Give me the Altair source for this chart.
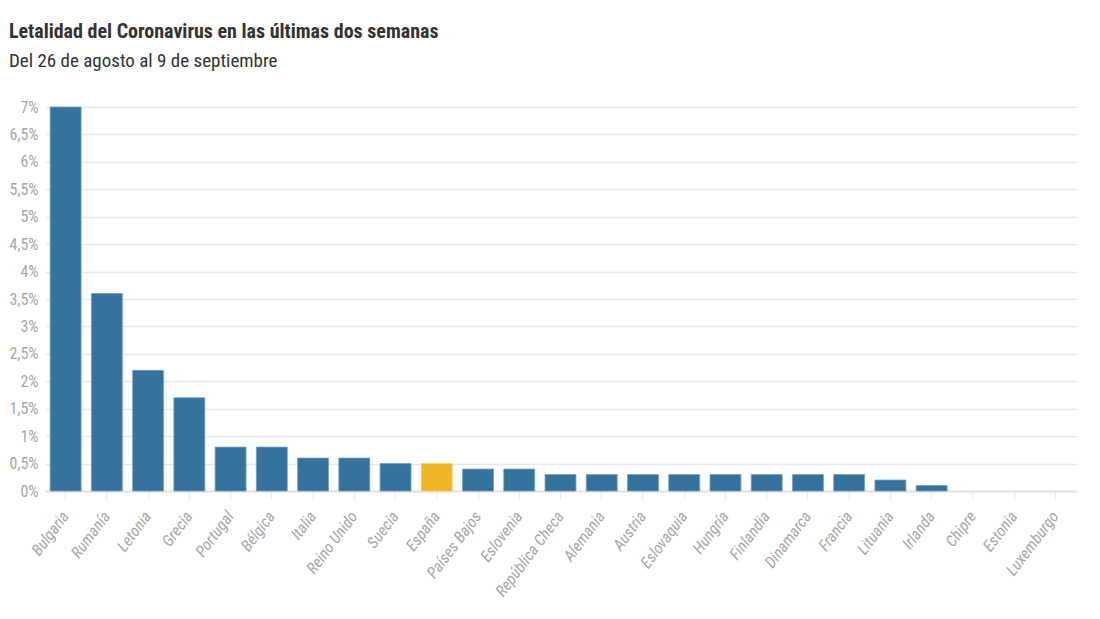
import altair as alt
import pandas as pd

paises = ["Bulgaria", "Rumanía", "Letonia", "Grecia", "Portugal", "Bélgica", "Italia",
          "Reino Unido", "Suecia", "España", "Países Bajos", "Eslovenia", "República Checa",
          "Alemania", "Austria", "Eslovaquia", "Hungría", "Finlandia", "Dinamarca",
          "Francia", "Lituania", "Irlanda", "Chipre", "Estonia", "Luxemburgo"]
letalidad = [7.0, 3.6, 2.2, 1.7, 0.8, 0.8, 0.6, 0.6, 0.5, 0.5, 0.4, 0.4, 0.3,
             0.3, 0.3, 0.3, 0.3, 0.3, 0.3, 0.3, 0.2, 0.1, 0.0, 0.0, 0.0]
destacado = ["España"]
y_ticks = [0, 0.5, 1, 1.5, 2, 2.5, 3, 3.5, 4, 4.5, 5, 5.5, 6, 6.5, 7]

df = pd.DataFrame({"pais": paises, "valor": letalidad})
df["grupo"] = ["destacado" if p in destacado else "resto" for p in paises]

FONT = "Liberation Sans Narrow, Roboto Condensed, Open Sans, sans-serif"

bars = alt.Chart(df).mark_bar(strokeWidth=0.8, opacity=0.97).encode(
    x=alt.X("pais:N", sort=paises, title=None,
            scale=alt.Scale(paddingInner=0.25, paddingOuter=0.125),
            axis=alt.Axis(labelAngle=-53, labelAlign="right", labelBaseline="middle",
                          labelFontStyle="italic", labelColor="#a8a8a8", labelFontSize=16,
                          labelFont=FONT, labelPadding=14,
                          tickColor="#e6e6e6", tickSize=8, domainColor="#e3e3e3",
                          domainWidth=2)),
    y=alt.Y("valor:Q", title=None,
            scale=alt.Scale(domain=[0, 7], nice=False),
            axis=alt.Axis(values=y_ticks, domain=False, ticks=False,
                          labelExpr="replace(format(datum.value, '.1~f'), '.', ',') + '%'",
                          labelColor="#a8a8a8", labelFontSize=16, labelFont=FONT,
                          labelPadding=7, gridColor="#e8e8e8", gridWidth=1.5)),
    color=alt.Color("grupo:N", scale=alt.Scale(domain=["resto", "destacado"],
                                               range=["#2f6f99", "#f0b321"]), legend=None),
    stroke=alt.Stroke("grupo:N", scale=alt.Scale(domain=["resto", "destacado"],
                                                 range=["#6d9dbf", "#f6cf6e"]), legend=None),
    strokeOpacity=alt.condition("datum.valor > 0", alt.value(1), alt.value(0)),
)

chart = bars.properties(
    width=1031, height=384,
    padding={"left": 0, "top": 14, "right": 5, "bottom": 5},
    title=alt.TitleParams(
        "Letalidad del Coronavirus en las últimas dos semanas",
        subtitle="Del 26 de agosto al 9 de septiembre",
        anchor="start", font=FONT, fontSize=20, fontWeight="bold", color="#333333",
        subtitleFont=FONT, subtitleFontSize=19, subtitleColor="#333333",
        subtitlePadding=10, offset=28),
).configure_view(stroke=None)

chart.save("out.html", embed_options={"renderer": "svg", "actions": False})
